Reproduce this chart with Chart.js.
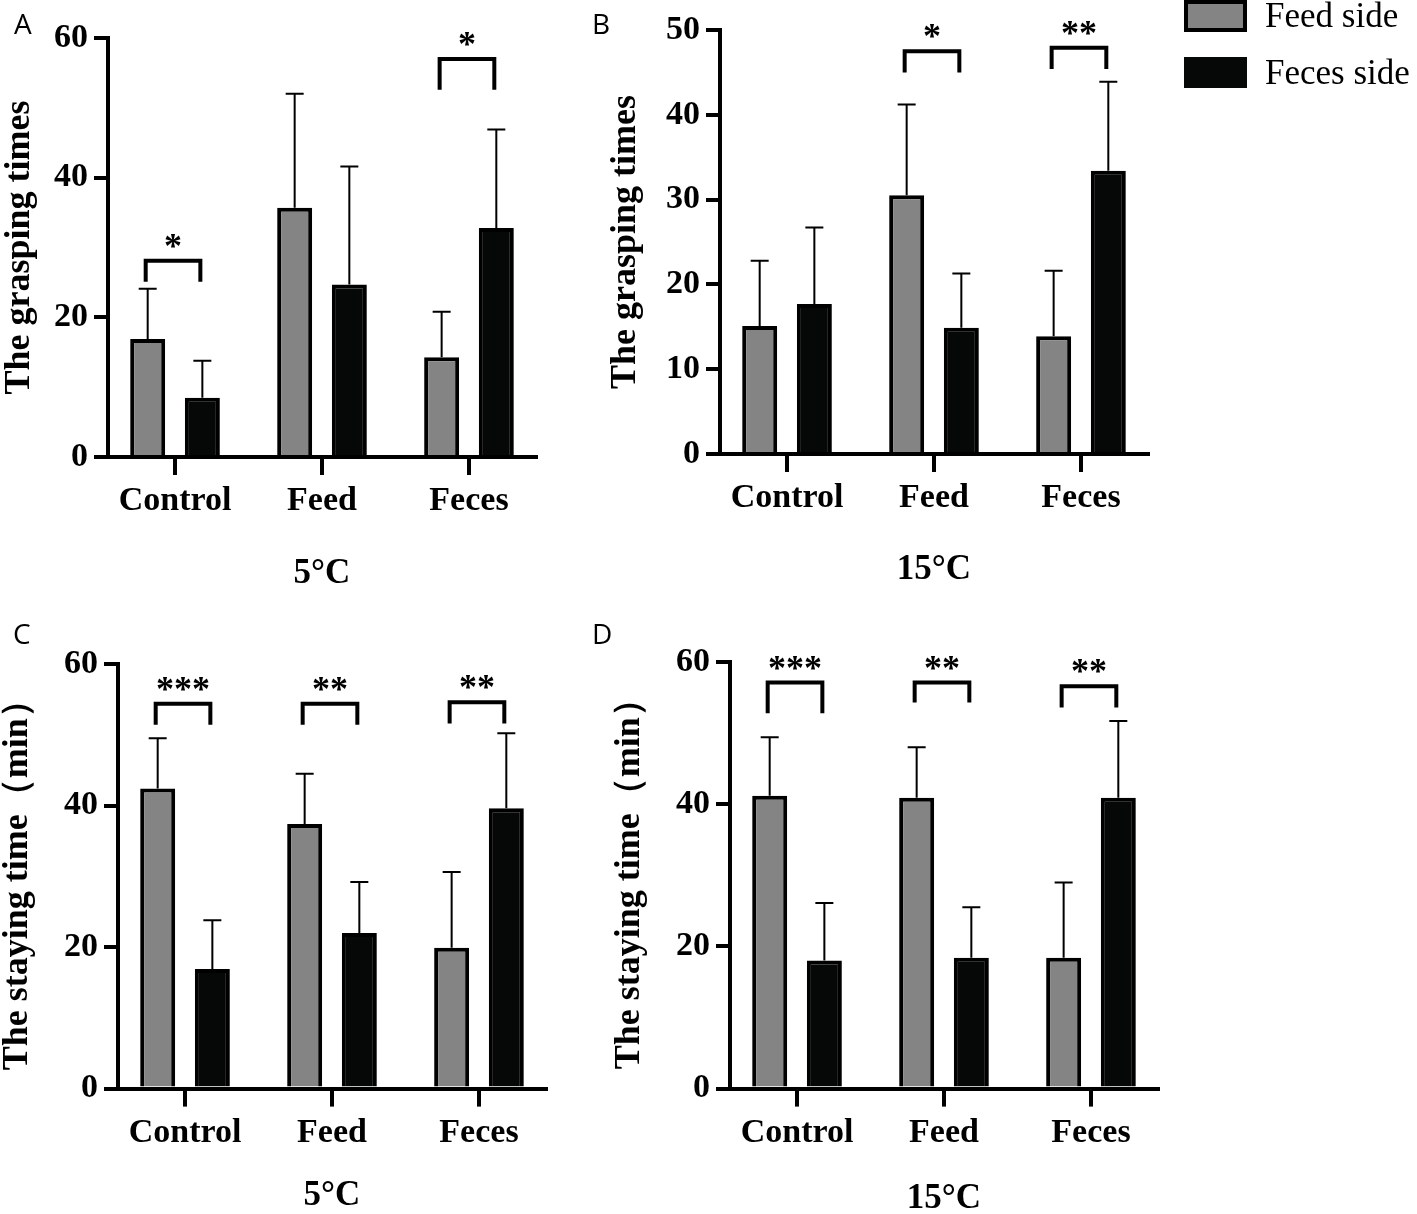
<!DOCTYPE html>
<html>
<head>
<meta charset="utf-8">
<script src="https://cdn.jsdelivr.net/npm/chart.js@4.4.1/dist/chart.umd.min.js"></script>
<style>
  html, body { margin: 0; padding: 0; background: #fff; }
  body { width: 1417px; height: 1214px; position: relative; overflow: hidden; }
  canvas { position: absolute; }
  .tag { position: absolute; font-family: 'Open Sans', 'Noto Sans', sans-serif; font-size: 28px; line-height: 28px; color: #000; }
</style>
</head>
<body>
<canvas id="panelA" width="580" height="600" style="left:0px;top:0px"></canvas>
<canvas id="panelB" width="827" height="600" style="left:590px;top:0px"></canvas>
<canvas id="panelC" width="580" height="610" style="left:0px;top:610px"></canvas>
<canvas id="panelD" width="590" height="610" style="left:590px;top:610px"></canvas>
<div class="tag" style="left:14px;top:9px">A</div>
<div class="tag" style="left:592px;top:9px">B</div>
<div class="tag" style="left:13px;top:619px">C</div>
<div class="tag" style="left:592px;top:619px">D</div>
<script>
// categories and series
const categories = ['Control', 'Feed', 'Feces'];
const seriesNames = ['Feed side', 'Feces side'];

// A - grasping times at 5°C (mean, SD)
const graspFeed5 = [16.9, 35.7, 14.3];
const graspFeed5SD = [7.2, 16.3, 6.5];
const graspFeces5 = [8.5, 24.7, 32.8];
const graspFeces5SD = [5.3, 16.9, 14.1];
// significance: [category, bracket level, leg end, mark]
const graspSig5 = [[0, 28.1, 25.1, '*'], [2, 57.0, 52.6, '*']];

// B - grasping times at 15°C
const graspFeed15 = [15.1, 30.5, 13.9];
const graspFeed15SD = [7.7, 10.7, 7.7];
const graspFeces15 = [17.7, 14.9, 33.4];
const graspFeces15SD = [9.0, 6.4, 10.5];
const graspSig15 = [[1, 47.5, 45.0, '*'], [2, 47.9, 45.4, '**']];

// C - staying time at 5°C
const stayFeed5 = [42.4, 37.4, 19.9];
const stayFeed5SD = [7.1, 7.1, 10.7];
const stayFeces5 = [16.9, 22.0, 39.6];
const stayFeces5SD = [6.9, 7.2, 10.6];
const staySig5 = [[0, 54.4, 51.4, '***'], [1, 54.4, 51.4, '**'], [2, 54.6, 51.6, '**']];

// D - staying time at 15°C
const stayFeed15 = [41.2, 40.9, 18.4];
const stayFeed15SD = [8.2, 7.1, 10.6];
const stayFeces15 = [18.0, 18.4, 40.9];
const stayFeces15SD = [8.1, 7.1, 10.8];
const staySig15 = [[0, 57.1, 52.8, '***'], [1, 57.1, 54.3, '**'], [2, 56.6, 53.6, '**']];

const SERIF = "'Liberation Serif', 'Times New Roman', serif";
const GRAY = '#848484';
const BLACK = '#060808';

function makePanel(id, p) {
  const canvas = document.getElementById(id);
  const W = canvas.width, H = canvas.height;

  // error bars, significance brackets, legend
  const marks = {
    id: 'marks' + id,
    afterDatasetsDraw(chart) {
      const ctx = chart.ctx;
      const y = chart.scales.y;
      ctx.save();
      ctx.strokeStyle = '#000';
      ctx.fillStyle = '#000';
      chart.data.datasets.forEach((ds, di) => {
        chart.getDatasetMeta(di).data.forEach((bar, i) => {
          const top = y.getPixelForValue(ds.data[i].y + ds.sd[i]);
          ctx.lineWidth = 2;
          ctx.beginPath();
          ctx.moveTo(bar.x, bar.y);
          ctx.lineTo(bar.x, top);
          ctx.moveTo(bar.x - 9, top);
          ctx.lineTo(bar.x + 9, top);
          ctx.stroke();
        });
      });
      const m0 = chart.getDatasetMeta(0).data, m1 = chart.getDatasetMeta(1).data;
      p.sig.forEach(([cat, lvl, leg, mark]) => {
        const x1 = m0[cat].x - 2, x2 = m1[cat].x - 2;
        const yl = y.getPixelForValue(lvl), yb = y.getPixelForValue(leg);
        ctx.lineWidth = 4;
        ctx.lineJoin = 'miter';
        ctx.beginPath();
        ctx.moveTo(x1, yb);
        ctx.lineTo(x1, yl);
        ctx.lineTo(x2, yl);
        ctx.lineTo(x2, yb);
        ctx.stroke();
        ctx.font = 'bold 36px ' + SERIF;
        ctx.textAlign = 'center';
        ctx.textBaseline = 'alphabetic';
        ctx.fillText(mark, (x1 + x2) / 2, yl - 3);
      });
      ctx.restore();
    },
    afterDraw(chart) {
      if (!p.legend) return;
      const ctx = chart.ctx;
      const lx = p.legend.x;
      ctx.save();
      ctx.fillStyle = GRAY;
      ctx.fillRect(lx, 0, 63, 32);
      ctx.strokeStyle = '#000';
      ctx.lineWidth = 4;
      ctx.strokeRect(lx + 2, 2, 59, 28);
      ctx.fillStyle = BLACK;
      ctx.fillRect(lx, 57, 63, 31);
      ctx.fillStyle = '#000';
      ctx.textAlign = 'left';
      ctx.textBaseline = 'alphabetic';
      ctx.font = '35px ' + SERIF;
      ctx.fillText(chart.data.datasets[0].label, lx + 81, 27);
      ctx.fillText(chart.data.datasets[1].label, lx + 81, 83.5);
      ctx.restore();
    }
  };

  new Chart(canvas, {
    type: 'bar',
    data: {
      datasets: [
        { label: seriesNames[0], data: p.feed.map((v, i) => ({ x: i, y: v })), sd: p.feedSD,
          backgroundColor: GRAY, borderColor: '#000', borderWidth: 4 },
        { label: seriesNames[1], data: p.feces.map((v, i) => ({ x: i, y: v })), sd: p.fecesSD,
          backgroundColor: BLACK, borderColor: '#000', borderWidth: 4 }
      ]
    },
    options: {
      responsive: false,
      animation: false,
      layout: { padding: { top: p.top, right: W - p.right, left: 0, bottom: 0 } },
      datasets: { bar: { categoryPercentage: 0.744, barPercentage: 0.64, borderSkipped: 'start' } },
      plugins: { legend: { display: false }, tooltip: { enabled: false } },
      scales: {
        x: {
          type: 'linear',
          min: -0.456,
          max: 2.456,
          offset: false,
          afterBuildTicks: s => { s.ticks = categories.map((c, i) => ({ value: i })); },
          afterFit: s => { s.height = H - p.bottom; },
          grid: { drawOnChartArea: false, offset: false, tickLength: 18, lineWidth: 4, color: '#000' },
          border: { display: true, width: 4, color: '#000' },
          ticks: {
            callback: v => categories[v],
            autoSkip: false, maxRotation: 0,
            color: '#000', padding: 6,
            font: { family: SERIF, size: 34, weight: 'bold' }
          },
          title: {
            display: true, text: p.xTitle, color: '#000',
            font: { family: SERIF, size: 35, weight: 'bold', lineHeight: 1 },
            padding: { top: 0, bottom: p.xTitlePad }
          }
        },
        y: {
          min: 0,
          max: p.yMax,
          afterFit: s => { s.width = p.left; },
          grid: { drawOnChartArea: false, tickLength: 14, lineWidth: 4, color: '#000' },
          border: { display: true, width: 4, color: '#000' },
          ticks: {
            stepSize: p.yStep, color: '#000', padding: 6,
            font: { family: SERIF, size: 34, weight: 'bold' }
          },
          title: {
            display: true, text: p.yTitle, color: '#000',
            font: { family: SERIF, size: 36, weight: 'bold', lineHeight: 1 },
            padding: { top: p.yTitlePad, bottom: 0 }
          }
        }
      }
    },
    plugins: [marks]
  });
}

makePanel('panelA', {
  feed: graspFeed5, feedSD: graspFeed5SD, feces: graspFeces5, fecesSD: graspFeces5SD, sig: graspSig5,
  yMax: 60, yStep: 20, yTitle: 'The grasping times', xTitle: '5°C',
  left: 108, right: 536, top: 38, bottom: 457, yTitlePad: 2, xTitlePad: 8.5
});
makePanel('panelB', {
  feed: graspFeed15, feedSD: graspFeed15SD, feces: graspFeces15, fecesSD: graspFeces15SD, sig: graspSig15,
  yMax: 50, yStep: 10, yTitle: 'The grasping times', xTitle: '15°C',
  left: 130, right: 558, top: 30, bottom: 454, yTitlePad: 17.5, xTitlePad: 13,
  legend: { x: 594 }
});
makePanel('panelC', {
  feed: stayFeed5, feedSD: stayFeed5SD, feces: stayFeces5, fecesSD: stayFeces5SD, sig: staySig5,
  yMax: 60, yStep: 20, yTitle: 'The staying time（min）', xTitle: '5°C',
  left: 118, right: 546, top: 54, bottom: 478.6, yTitlePad: 0, xTitlePad: 6.5
});
makePanel('panelD', {
  feed: stayFeed15, feedSD: stayFeed15SD, feces: stayFeces15, fecesSD: stayFeces15SD, sig: staySig15,
  yMax: 60, yStep: 20, yTitle: 'The staying time（min）', xTitle: '15°C',
  left: 140, right: 568, top: 52, bottom: 478.6, yTitlePad: 22, xTitlePad: 3.5
});
</script>
</body>
</html>
